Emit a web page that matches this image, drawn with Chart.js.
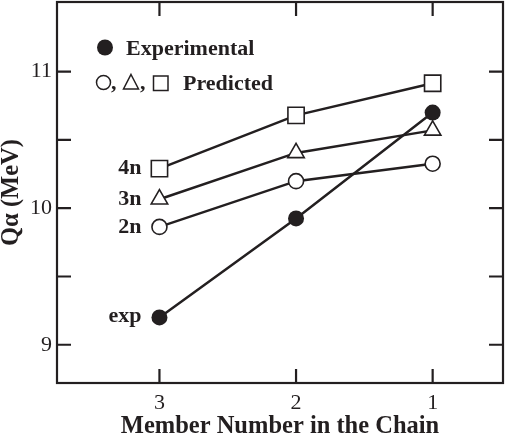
<!DOCTYPE html>
<html>
<head>
<meta charset="utf-8">
<script src="https://cdn.jsdelivr.net/npm/chart.js@4/dist/chart.umd.min.js"></script>
<style>
  html, body { margin: 0; padding: 0; background: #ffffff; }
  #wrap { width: 505px; height: 436px; }
</style>
</head>
<body>
<div id="wrap"><canvas id="chart" width="505" height="436"></canvas></div>
<script>
// member number in the chain (axis runs 3 -> 1)
const categories = [3, 2, 1];
// Q-alpha values in MeV
const expValues = [9.20, 9.925, 10.70];
const pred2n = [9.863, 10.198, 10.326];
const pred3n = [10.066, 10.405, 10.57];
const pred4n = [10.29, 10.68, 10.915];
const yTicks = [9, 9.5, 10, 10.5, 11];
const seriesNames = ['2n', '3n', '4n', 'exp'];

const ink = '#231f20';
const serif = "'Liberation Serif', 'DejaVu Serif', serif";

function toPoints(values) {
    return categories.map((c, i) => ({ x: c, y: values[i] }));
}

// inward ticks, frame, series labels and the legend
const decorPlugin = {
    id: 'decor',
    afterDraw(chart) {
        const ctx = chart.ctx;
        const area = chart.chartArea;
        const xs = chart.scales.x;
        const ys = chart.scales.y;
        const tick = 14;
        ctx.save();
        ctx.strokeStyle = ink;
        ctx.lineWidth = 2.2;
        ctx.strokeRect(area.left, area.top, area.right - area.left, area.bottom - area.top);
        ctx.beginPath();
        categories.forEach(c => {
            const px = xs.getPixelForValue(c);
            ctx.moveTo(px, area.bottom);
            ctx.lineTo(px, area.bottom - tick);
            ctx.moveTo(px, area.top);
            ctx.lineTo(px, area.top + tick);
        });
        yTicks.forEach(v => {
            const py = ys.getPixelForValue(v);
            ctx.moveTo(area.left, py);
            ctx.lineTo(area.left + tick, py);
            ctx.moveTo(area.right, py);
            ctx.lineTo(area.right - tick, py);
        });
        ctx.stroke();

        // series names next to the first point
        ctx.fillStyle = ink;
        ctx.font = 'bold 22px ' + serif;
        ctx.textAlign = 'right';
        ctx.textBaseline = 'middle';
        chart.data.datasets.forEach((ds, i) => {
            const pt = chart.getDatasetMeta(i).data[0];
            ctx.fillText(seriesNames[i], pt.x - 18, pt.y + (seriesNames[i] === 'exp' ? -1 : 0));
        });

        // legend
        ctx.textAlign = 'left';
        ctx.textBaseline = 'alphabetic';
        ctx.font = 'bold 22px ' + serif;
        ctx.beginPath();
        ctx.arc(105, 47.5, 8, 0, Math.PI * 2);
        ctx.fill();
        ctx.fillText('Experimental', 126, 55);

        ctx.lineWidth = 1.5;
        ctx.beginPath();
        ctx.arc(103.5, 82.5, 7, 0, Math.PI * 2);
        ctx.stroke();
        ctx.fillText(',', 111, 89);
        ctx.beginPath();
        ctx.moveTo(131, 74.5);
        ctx.lineTo(138.5, 89);
        ctx.lineTo(123.5, 89);
        ctx.closePath();
        ctx.stroke();
        ctx.fillText(',', 140, 89);
        ctx.strokeRect(153.5, 76, 14.5, 14.5);
        ctx.fillText('Predicted', 183, 90);
        ctx.restore();
    }
};

const ctx = document.getElementById('chart').getContext('2d');

new Chart(ctx, {
    type: 'line',
    data: {
        datasets: [
            {
                data: toPoints(pred2n),
                borderColor: ink,
                borderWidth: 2.5,
                pointStyle: 'circle',
                pointRadius: 7.5,
                pointBorderWidth: 1.6,
                pointBackgroundColor: '#ffffff',
                pointBorderColor: ink
            },
            {
                data: toPoints(pred3n),
                borderColor: ink,
                borderWidth: 2.5,
                pointStyle: 'triangle',
                pointRadius: 9.5,
                pointBorderWidth: 1.6,
                pointBackgroundColor: '#ffffff',
                pointBorderColor: ink
            },
            {
                data: toPoints(pred4n),
                borderColor: ink,
                borderWidth: 2.5,
                pointStyle: 'rect',
                pointRadius: 11.5,
                pointBorderWidth: 1.6,
                pointBackgroundColor: '#ffffff',
                pointBorderColor: ink
            },
            {
                data: toPoints(expValues),
                borderColor: ink,
                borderWidth: 2.5,
                pointStyle: 'circle',
                pointRadius: 8,
                pointBorderWidth: 0,
                pointBackgroundColor: ink,
                pointBorderColor: ink
            }
        ]
    },
    options: {
        responsive: false,
        animation: false,
        events: [],
        layout: {
            autoPadding: false,
            padding: { top: 2, right: 2, left: 0, bottom: 0 }
        },
        scales: {
            x: {
                type: 'linear',
                reverse: true,
                min: 0.485,
                max: 3.75,
                afterBuildTicks(scale) {
                    scale.ticks = categories.map(v => ({ value: v }));
                },
                afterFit(scale) { scale.height = 53; },
                grid: { display: false, drawTicks: true, tickLength: 0 },
                border: { display: false },
                ticks: {
                    padding: 7,
                    color: ink,
                    font: { family: serif, size: 22 }
                },
                title: {
                    display: true,
                    text: 'Member Number in the Chain',
                    color: ink,
                    padding: { top: 0, bottom: -3 },
                    font: { family: serif, size: 24.5, weight: 'bold', lineHeight: 1 }
                }
            },
            y: {
                type: 'linear',
                min: 8.72,
                max: 11.51,
                afterBuildTicks(scale) {
                    scale.ticks = yTicks.map(v => ({ value: v }));
                },
                afterFit(scale) { scale.width = 57; },
                grid: { display: false, drawTicks: true, tickLength: 5 },
                border: { display: false },
                ticks: {
                    padding: 0,
                    color: ink,
                    font: { family: serif, size: 22, lineHeight: 0.1 },
                    callback: v => Number.isInteger(v) ? String(v) : ''
                },
                title: {
                    display: true,
                    text: 'Qα (MeV)',
                    color: ink,
                    padding: { top: -1, bottom: 0 },
                    font: { family: serif, size: 24.5, weight: 'bold', lineHeight: 1 }
                }
            }
        },
        plugins: {
            legend: { display: false },
            tooltip: { enabled: false }
        }
    },
    plugins: [decorPlugin]
});
</script>
</body>
</html>
